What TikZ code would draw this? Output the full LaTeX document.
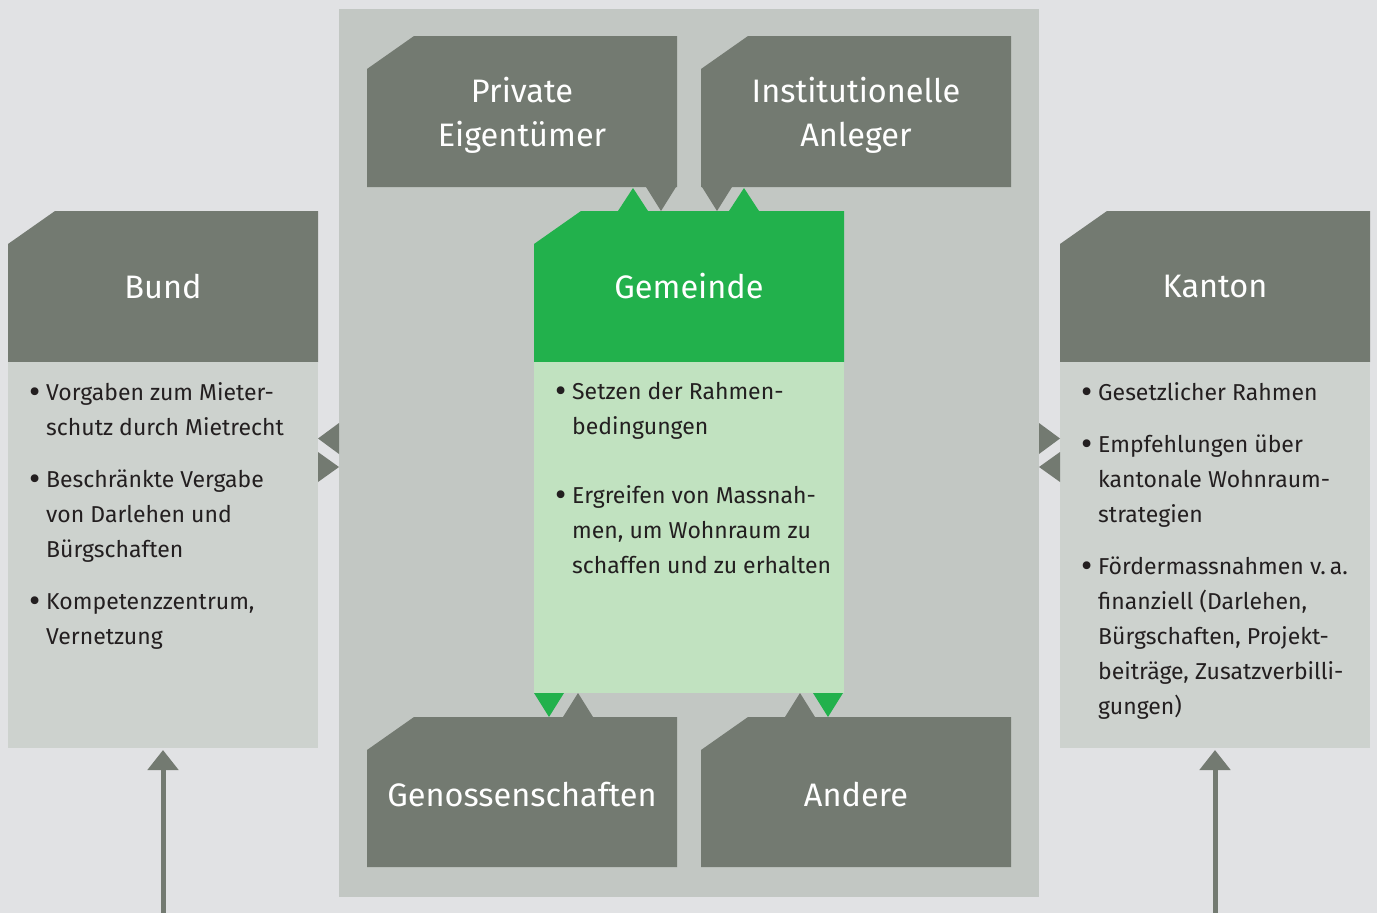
\documentclass[tikz,border=0pt]{standalone}
\usepackage{fontspec}
\setmainfont{Fira Sans}
\usepackage{xcolor}
\usepackage{graphicx}
\usepackage{tikz}
\usetikzlibrary{positioning,arrows.meta}

\definecolor{bgc}{HTML}{E1E2E4}
\definecolor{panelc}{HTML}{C2C7C3}
\definecolor{sidec}{HTML}{CDD2CE}
\definecolor{darkc}{HTML}{737A71}
\definecolor{greenc}{HTML}{22B14C}
\definecolor{lgreenc}{HTML}{C1E2C0}
\definecolor{textc}{HTML}{231F20}

% Aufzaehlungspunkt und Einzug
\newcommand{\itm}{\makebox[17pt][l]{\raisebox{-3.5pt}{\scalebox{1.5}{\textbullet}}}}
\newcommand{\ind}{\hspace*{17pt}}
% zweizeiliger Titel, etwas tiefer gesetzt
\newcommand{\zweizeilig}[2]{\raisebox{-4pt}[\height][\depth]{\begin{tabular}{@{}c@{}}#1\\#2\end{tabular}}}

\begin{document}
\begin{tikzpicture}[
						x=1pt, y=-1pt, % Pixel wie im Original
						hd/.style={
							minimum width=310pt, minimum height=151pt,
							inner sep=0pt, outer sep=0pt,
							text=white, align=center,
							font=\fontsize{32.5}{44}\selectfont,
							path picture={
								\fill[#1] ([yshift=-33pt]path picture bounding box.north west)
									-- ([xshift=47pt]path picture bounding box.north west)
									-- (path picture bounding box.north east)
									-- (path picture bounding box.south east)
									-- (path picture bounding box.south west) -- cycle;
							}
						},
						body/.style={
							fill=#1, minimum width=310pt,
							inner sep=0pt, outer sep=0pt
						},
						items/.style={
							anchor=north west, align=left,
							inner sep=0pt, text=textc,
							font=\fontsize{23}{35}\selectfont
						},
						uparr/.style={
							-{Triangle[width=30pt,length=20pt]}, darkc, line width=5pt
						}
						]
						% Hintergrund
						\fill[bgc] (0,0) rectangle (1377,913);
						\useasboundingbox (0,0) rectangle (1377,913);
						\node[fill=panelc, minimum width=700pt, minimum height=888pt, inner sep=0pt] (panel) at (689,453) {};
						
						% Akteure oben und unten
						\node[hd=darkc] (privat) at (522,111.5) {\zweizeilig{Private}{Eigentümer}};
						\node[hd=darkc] (institut) at (856,111.5) {\zweizeilig{Institutionelle}{Anleger}};
						\node[hd=darkc, minimum height=150pt] (genoss) at (522,792) {\raisebox{-2pt}[\height][\depth]{Genossenschaften}};
						\node[hd=darkc, minimum height=150pt] (andere) at (856,792) {\raisebox{-2pt}[\height][\depth]{Andere}};
						
						% Gemeinde
						\node[hd=greenc] (gemeinde) at (689,286.5) {Gemeinde};
						\node[body=lgreenc, minimum height=331pt, below=0pt of gemeinde] (gemeindebody) {};
						\node[items] (gemeindelist) at ([shift={(21,20)}]gemeindebody.north west)
							{\itm Setzen der Rahmen-\\
							 \ind bedingungen\\[34pt]
							 \itm Ergreifen von Massnah-\\
							 \ind men, um Wohnraum zu\\
							 \ind schaffen und zu erhalten};
						
						% Bund
						\node[hd=darkc] (bund) at (163,286.5) {Bund};
						\node[body=sidec, minimum height=386pt, below=0pt of bund] (bundbody) {};
						\node[items] (bundlist) at ([shift={(21,20)}]bundbody.north west)
							{\itm Vorgaben zum Mieter-\\
							 \ind schutz durch Mietrecht\\[17pt]
							 \itm Beschränkte Vergabe\\
							 \ind von Darlehen und\\
							 \ind Bürgschaften\\[17pt]
							 \itm Kompetenzzentrum,\\
							 \ind Vernetzung};
						
						% Kanton
						\node[hd=darkc] (kanton) at (1215,286.5) {Kanton};
						\node[body=sidec, minimum height=386pt, below=0pt of kanton] (kantonbody) {};
						\node[items] (kantonlist) at ([shift={(21,20)}]kantonbody.north west)
							{\itm Gesetzlicher Rahmen\\[17pt]
							 \itm Empfehlungen über\\
							 \ind kantonale Wohnraum-\\
							 \ind strategien\\[17pt]
							 \itm Fördermassnahmen v.\,a.\\
							 \ind finanziell (Darlehen,\\
							 \ind Bürgschaften, Projekt-\\
							 \ind beiträge, Zusatzverbilli-\\
							 \ind gungen)};
						
						% Dreiecke zwischen Gemeinde und Akteuren
						\foreach \x in {633,744} {
							\fill[greenc] (\x-15,211) -- (\x,188) -- (\x+15,211) -- cycle;
						}
						\foreach \x in {661,717} {
							\fill[darkc] (\x-15,187) -- (\x,211) -- (\x+15,187) -- cycle;
						}
						\foreach \x in {549,828} {
							\fill[greenc] (\x-15,693) -- (\x,717) -- (\x+15,693) -- cycle;
						}
						\foreach \x in {578,800} {
							\fill[darkc] (\x-15,717) -- (\x,693) -- (\x+15,717) -- cycle;
						}
						
						% Dreiecke zu Bund und Kanton
						\foreach \a/\b in {318/339, 1060/1039} {
							\fill[darkc] (\b,423) -- (\a,438.5) -- (\b,454) -- cycle;
							\fill[darkc] (\a,452) -- (\b,467) -- (\a,482) -- cycle;
						}
						
						% Pfeile von unten
						\coordinate (bundfuss) at (163,913);
						\coordinate (kantonfuss) at (1215,913);
						\draw[uparr] (bundfuss) -- ([yshift=-2pt]bundbody.south);
						\draw[uparr] (kantonfuss) -- ([yshift=-2pt]kantonbody.south);
						
					\end{tikzpicture}
\end{document}
